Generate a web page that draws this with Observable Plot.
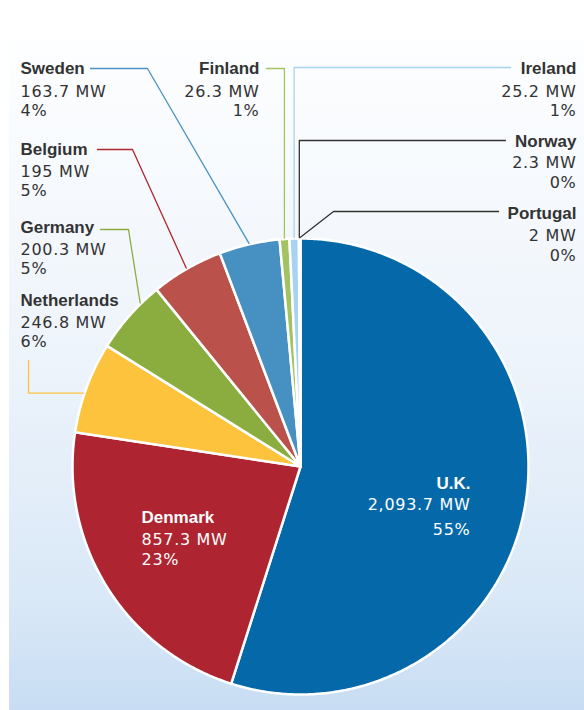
<!DOCTYPE html>
<html><head><meta charset="utf-8">
<script src="https://cdn.jsdelivr.net/npm/d3@7"></script>
<script src="https://cdn.jsdelivr.net/npm/@observablehq/plot@0.6"></script>
<style>body{margin:0;background:#fff} .val text, text.val{letter-spacing:0.7px}</style>
</head><body><div id="chart"></div>
<script>
// ---- data ----
const countries = ["U.K.","Denmark","Netherlands","Germany","Belgium","Sweden","Finland","Ireland","Norway","Portugal"];
const capacityMW = [2093.7, 857.3, 246.8, 200.3, 195, 163.7, 26.3, 25.2, 2.3, 2];
const shareLabels = ["55%","23%","6%","5%","5%","4%","1%","1%","0%","0%"];
const sliceColors = ["#0569a9","#ae2430","#fec33d","#8bad3f","#ba514a","#4790c2","#a3c262","#a6d3f2","#7f7f7f","#bdbdbd"];

// ---- layout ----
const W = 584, H = 710;
const pie = {cx: 300, cy: 466, r: 228};
const labelLayout = {
  "U.K.":      {x: 470, anchor: "end",   ys: [488, 509, 534], light: true},
  "Denmark":   {x: 141, anchor: "start", ys: [522, 544, 564], light: true},
  "Netherlands":{x: 20, anchor: "start", ys: [305, 327, 346], at: 0.43, color: "#fec33d", leader: e => [[28,360],[28,e[1]],e]},
  "Germany":   {x: 20,  anchor: "start", ys: [232, 254, 273], at: 0.72, color: "#8bad3f", leader: e => [[100,229],[128,229],e]},
  "Belgium":   {x: 20,  anchor: "start", ys: [154, 176, 195], at: 0.5, color: "#b0262f", leader: e => [[97,149],[132,149],e]},
  "Sweden":    {x: 20,  anchor: "start", ys: [73, 96, 115],   at: 0.5, color: "#4a92c4", leader: e => [[90,68],[147,68],e]},
  "Finland":   {x: 259, anchor: "end",   ys: [73, 96, 115],   at: 0.5, color: "#a3c262", leader: e => [[266,68],[e[0],68],e]},
  "Ireland":   {x: 576, anchor: "end",   ys: [73, 96, 115],   at: 0.5, color: "#a6d3f2", leader: e => [[510,67],[e[0],67],e]},
  "Norway":    {x: 576, anchor: "end",   ys: [146, 167, 187], at: 0.5, color: "#333333", leader: e => [[505,140],[e[0],140],e]},
  "Portugal":  {x: 576, anchor: "end",   ys: [218, 240, 260], at: 0.5, color: "#333333", leader: e => [[498,211],[333,211],e]}
};

// ---- derived ----
const total = d3.sum(capacityMW);
const fmt = d3.format(",");
const deg = Math.PI / 180;
const pt = (a, r) => [pie.cx + r * Math.sin(a * deg), pie.cy - r * Math.cos(a * deg)];
let acc = 0;
const slices = countries.map((name, i) => {
  const a0 = acc / total * 360; acc += capacityMW[i]; const a1 = acc / total * 360;
  return {name, value: capacityMW[i], share: shareLabels[i], a0, a1};
});
const slicePts = slices.flatMap(s => {
  const pts = [{name: s.name, x: pie.cx, y: pie.cy}];
  const n = Math.max(1, Math.ceil((s.a1 - s.a0) / 0.5));
  for (let k = 0; k <= n; k++) {
    const [x, y] = pt(s.a0 + (s.a1 - s.a0) * k / n, pie.r);
    pts.push({name: s.name, x, y});
  }
  pts.push({name: s.name, x: pie.cx, y: pie.cy});
  return pts;
});

const marks = [];
marks.push(Plot.rect([0], {x1: 9, x2: W, y1: 40, y2: H, fill: "url(#bg)"}));
marks.push(Plot.line(slicePts, {x: "x", y: "y", z: "name", fill: "name", stroke: "white", strokeWidth: 2.5, strokeLinejoin: "round"}));

for (const s of slices) {
  const L = labelLayout[s.name];
  if (L.leader) {
    const e = pt(s.a0 + (s.a1 - s.a0) * L.at, pie.r + 1);
    const pts = L.leader(e).map(([x, y]) => ({x, y}));
    marks.push(Plot.line(pts, {x: "x", y: "y", stroke: L.color, strokeWidth: 1.3}));
  }
  const fill = L.light ? "white" : "#333333";
  marks.push(Plot.text([s], {x: () => L.x, y: () => L.ys[0], text: d => d.name, textAnchor: L.anchor, lineAnchor: "bottom",
    fontFamily: "Liberation Sans, Arial, sans-serif", fontWeight: "bold", fontSize: 17, fill}));
  marks.push(Plot.text([s], {x: () => L.x, y: () => L.ys[1], text: d => fmt(d.value) + " MW", textAnchor: L.anchor, lineAnchor: "bottom",
    fontFamily: "DejaVu Sans, sans-serif", fontSize: 16, fill, className: "val"}));
  marks.push(Plot.text([s], {x: () => L.x, y: () => L.ys[2], text: d => d.share, textAnchor: L.anchor, lineAnchor: "bottom",
    fontFamily: "DejaVu Sans, sans-serif", fontSize: 16, fill, className: "val"}));
}

const svg = Plot.plot({
  width: W, height: H, margin: 0,
  x: {domain: [0, W], range: [0, W], axis: null},
  y: {domain: [0, H], range: [0, H], axis: null},
  color: {domain: countries, range: sliceColors},
  style: {background: "white"},
  marks
});
d3.select(svg).insert("defs", ":first-child").html(
  `<linearGradient id="bg" x1="0" y1="0" x2="0" y2="1">
     <stop offset="0" stop-color="#fdfeff"/>
     <stop offset="0.46" stop-color="#eef4fb"/>
     <stop offset="0.84" stop-color="#d9e8f7"/>
     <stop offset="1" stop-color="#c8ddf3"/>
   </linearGradient>`);
document.getElementById("chart").appendChild(svg);
</script>
</body></html>
